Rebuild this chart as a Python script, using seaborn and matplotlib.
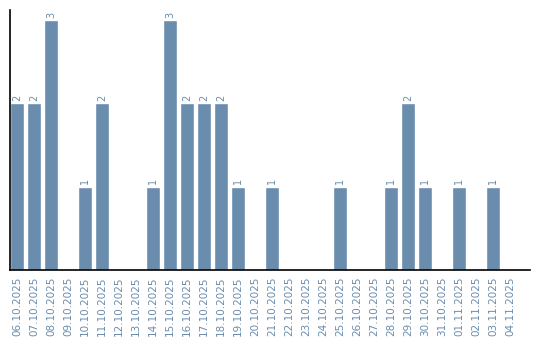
import matplotlib
matplotlib.use("Agg")
import matplotlib.pyplot as plt
import seaborn as sns
import pandas as pd

dates = ["06.10.2025","07.10.2025","08.10.2025","09.10.2025","10.10.2025","11.10.2025",
         "12.10.2025","13.10.2025","14.10.2025","15.10.2025","16.10.2025","17.10.2025",
         "18.10.2025","19.10.2025","20.10.2025","21.10.2025","22.10.2025","23.10.2025",
         "24.10.2025","25.10.2025","26.10.2025","27.10.2025","28.10.2025","29.10.2025",
         "30.10.2025","31.10.2025","01.11.2025","02.11.2025","03.11.2025","04.11.2025"]
counts = [2,2,3,0,1,2,0,0,1,3,2,2,2,1,0,1,0,0,0,1,0,0,1,2,1,0,1,0,1,0]

df = pd.DataFrame({"date": dates, "count": counts})

sns.set_theme(style="white")
plt.rcParams['font.family'] = ['DejaVu Sans']
bar_color = "#6a8cad"
text_color = "#6a8cad"

fig = plt.figure(figsize=(5.4, 3.4), dpi=100)
ax = fig.add_axes([10/540, 70/340, 520/540, 260/340])
sns.barplot(data=df, x="date", y="count", color=bar_color, width=14/17,
            saturation=1, ax=ax, order=dates)

for i, v in enumerate(counts):
    if v > 0:
        ax.text(i, v + 0.03, str(v), rotation=90, ha="center", va="bottom",
                fontsize=7, color=text_color)

ax.set_xlim(-7/17, 30.18)
ax.set_ylim(0, 3.12)
ax.set_xlabel("")
ax.set_ylabel("")
ax.set_yticks([])
ax.tick_params(axis="x", rotation=90, labelsize=7.5, colors=text_color, length=0, pad=5)
for s in ["top", "right"]:
    ax.spines[s].set_visible(False)
for s in ["left", "bottom"]:
    ax.spines[s].set_color("black")
    ax.spines[s].set_linewidth(1.2)

fig.savefig("out.png", dpi=100)
